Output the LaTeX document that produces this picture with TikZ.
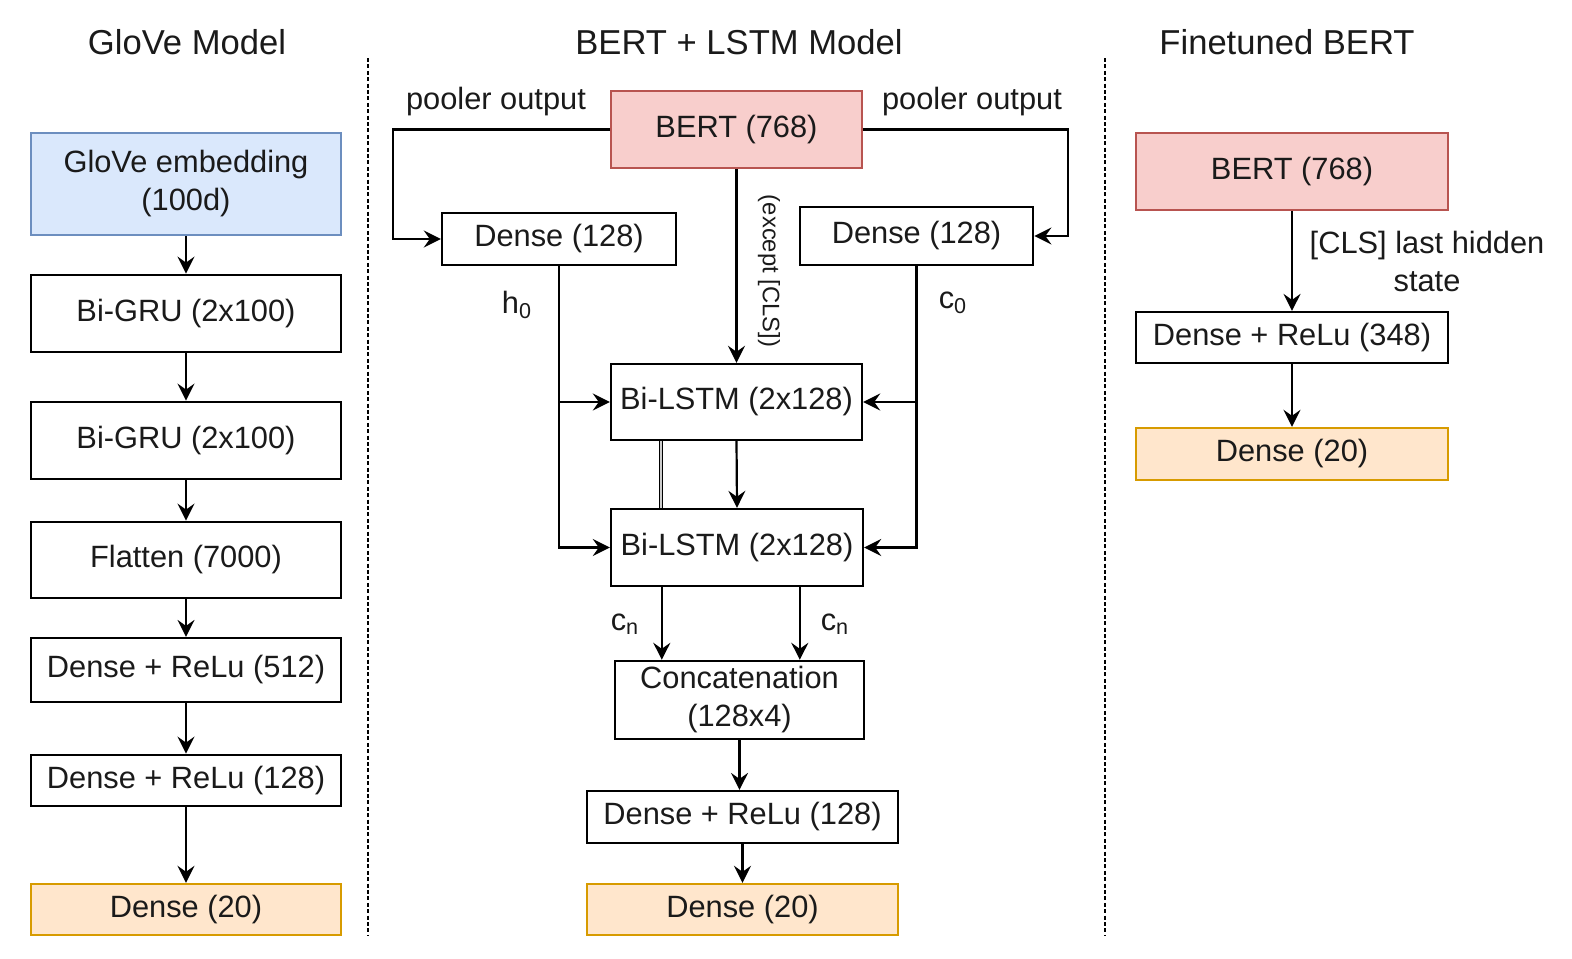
\documentclass[tikz,border=0pt]{standalone}
\usepackage{fontspec}
\setmainfont{Liberation Sans}
\usetikzlibrary{arrows.meta,calc}
\newcommand\lblfont{\fontsize{15.4}{19}\selectfont}
\newcommand\ttlfont{\fontsize{17.3}{20}\selectfont}
\newcommand\smlfont{\fontsize{11.9}{14}\selectfont}
\definecolor{bluefill}{HTML}{DAE8FC}
\definecolor{bluedraw}{HTML}{6C8EBF}
\definecolor{redfill}{HTML}{F8CECC}
\definecolor{reddraw}{HTML}{B85450}
\definecolor{orfill}{HTML}{FFE6CC}
\definecolor{ordraw}{HTML}{D79B00}
\definecolor{txt}{HTML}{1A1A1A}
\tikzset{
  box/.style={draw=black, line width=1.4pt, inner sep=0pt, align=center, font=\lblfont, text=txt},
  bluebox/.style={box, fill=bluefill, draw=bluedraw, line width=0.9pt},
  redbox/.style={box, fill=redfill, draw=reddraw, line width=0.9pt},
  orbox/.style={box, fill=orfill, draw=ordraw, line width=1.2pt},
  arr/.style={-{Stealth[length=8.5pt,width=8.5pt,inset=3pt]}, line width=1.1pt},
  title/.style={font=\ttlfont, text=txt},
  lbl/.style={font=\lblfont, text=txt, inner sep=0pt, align=center},
  sep/.style={line width=0.9pt, dash pattern=on 2pt off 1.2pt}
}
\begin{document}
\begin{tikzpicture}[x=0.5pt,y=-0.5pt]
\useasboundingbox (0,0) rectangle (1572,958);
% titles
\node[title] (t1) at (187,42) {GloVe Model};
\node[title] (t2) at (739,42) {BERT + LSTM Model};
\node[title] (t3) at (1287,42) {Finetuned BERT};
% separators
\coordinate (s1a) at (368,58); \coordinate (s1b) at (368,936);
\coordinate (s2a) at (1105,58); \coordinate (s2b) at (1105,936);
\draw[sep] (s1a) -- (s1b);
\draw[sep] (s2a) -- (s2b);
% left column
\node[bluebox, minimum width=155pt, minimum height=51pt] (glove) at (186,184) {GloVe embedding\\(100d)};
\node[box, minimum width=155pt, minimum height=38.5pt] (gru1) at (186,313.5) {Bi-GRU (2x100)};
\node[box, minimum width=155pt, minimum height=38.5pt] (gru2) at (186,440.5) {Bi-GRU (2x100)};
\node[box, minimum width=155pt, minimum height=38pt] (flat) at (186,560) {Flatten (7000)};
\node[box, minimum width=155pt, minimum height=32pt, line width=1.1pt] (d512) at (186,670) {Dense + ReLu (512)};
\node[box, minimum width=155pt, minimum height=25.5pt] (d128) at (186,780.5) {Dense + ReLu (128)};
\node[orbox, minimum width=155pt, minimum height=25.5pt] (out1) at (186,909.5) {Dense (20)};
\draw[arr] (glove) -- (gru1);
\draw[arr] (gru1) -- (gru2);
\draw[arr] (gru2) -- (flat);
\draw[arr] (flat) -- (d512);
\draw[arr] (d512) -- (d128);
\draw[arr] (d128) -- (out1);
% middle column
\node[redbox, minimum width=125.5pt, minimum height=38.5pt] (bert) at (736.5,129.5) {BERT (768)};
\node[box, minimum width=117pt, minimum height=26pt, line width=1.2pt] (dl) at (559,239) {Dense (128)};
\node[box, minimum width=116.5pt, minimum height=29pt] (dr) at (916.5,236) {Dense (128)};
\node[box, minimum width=125.5pt, minimum height=38pt, line width=1.2pt] (lstm1) at (736.5,402) {Bi-LSTM (2x128)};
\node[box, minimum width=126pt, minimum height=38.5pt, line width=1.2pt] (lstm2) at (737,547.5) {Bi-LSTM (2x128)};
\node[box, minimum width=124.5pt, minimum height=39pt, line width=1.2pt] (concat) at (739.5,700) {Concatenation\\(128x4)};
\node[box, minimum width=155.5pt, minimum height=26pt, line width=1.1pt] (dm) at (742.5,817) {Dense + ReLu (128)};
\node[orbox, minimum width=155.5pt, minimum height=25.5pt] (out2) at (742.5,909.5) {Dense (20)};
\node[lbl] (po1) at (496,102) {pooler output};
\node[lbl] (po2) at (972,102) {pooler output};
\draw[arr] (bert.west) -- ++(-217,0) |- (dl.west);
\draw[arr] (bert.east) -- ++(205,0) |- (dr.east);
\draw[arr] (bert.south) -- (lstm1.north);
\node[font=\smlfont, text=txt, rotate=-90, inner sep=0pt] (exc) at (769,271) {(except [CLS])};
\draw[arr] (dl.south) |- (lstm2.west);
\draw[arr] (dl.south |- lstm1.west) -- (lstm1.west);
\draw[arr] (dr.south) |- (lstm2.east);
\draw[arr] (dr.south |- lstm1.east) -- (lstm1.east);
\node[lbl] (h0) at (517,305) {h\textsubscript{0}};
\node[lbl] (c0) at (953,303) {c\textsubscript{0}};
\draw[arr] (lstm1.south) -- (lstm2.north);
\draw[line width=0.5pt, double=gray!40, double distance=1pt] ([xshift=25.5pt]lstm1.south west) -- ([xshift=25.5pt]lstm1.south west |- lstm2.north);
\draw[arr] ([xshift=26pt]lstm2.south west) -- ([xshift=26pt]lstm2.south west |- concat.north);
\draw[arr] ([xshift=95pt]lstm2.south west) -- ([xshift=95pt]lstm2.south west |- concat.north);
\node[lbl] (cn1) at (625,624) {c\textsubscript{n}};
\node[lbl] (cn2) at (835,624) {c\textsubscript{n}};
\draw[arr] (concat.south) -- (concat.south |- dm.north);
\draw[arr] (dm.south) -- (out2.north);
% right column
\node[redbox, minimum width=156pt, minimum height=38.5pt] (bert2) at (1292,171.5) {BERT (768)};
\node[box, minimum width=156pt, minimum height=25.5pt, line width=1.1pt] (dr2) at (1292,337.5) {Dense + ReLu (348)};
\node[orbox, minimum width=156pt, minimum height=26pt] (out3) at (1292,454) {Dense (20)};
\draw[arr] (bert2) -- (dr2);
\draw[arr] (dr2) -- (out3);
\node[lbl] (cls) at (1427,261) {[CLS] last hidden\\state};
\end{tikzpicture}
\end{document}
